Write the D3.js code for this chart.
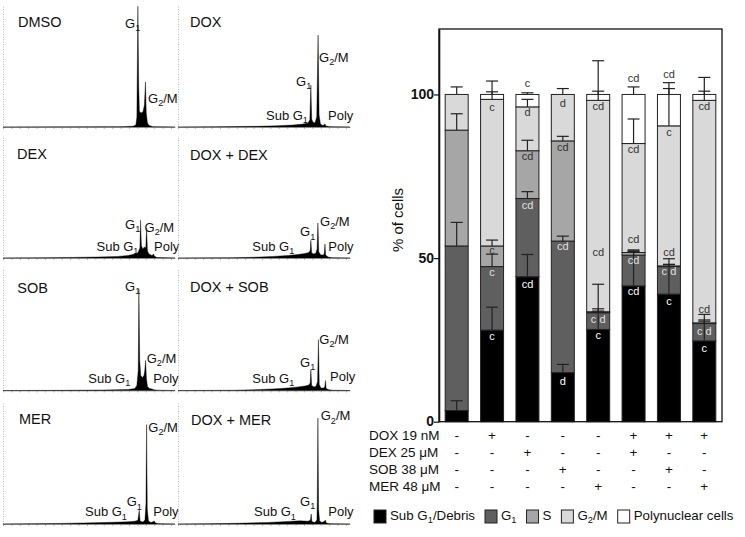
<!DOCTYPE html>
<html>
<head>
<meta charset="utf-8">
<script src="https://cdn.jsdelivr.net/npm/d3@7"></script>
<style>
  body { margin: 0; background: #fff; }
  text { font-family: "Liberation Sans", Arial, sans-serif; }
</style>
</head>
<body>
<svg id="chart" width="745" height="537"></svg>
<script>
// ---------- histograms: [DNA channel 0-1024, count as % of panel height]
var histDMSO = [[0,0],[714,0.3],[774,0.7],[791,1.6],[797,8.2],[803,99],[808,33],[812,13],[821,11.5],[833,12.3],[842,18],[848,37],[853,11.5],[860,3.3],[869,1.2],[881,0.8],[893,0.25],[1024,0]];
var histDOX = [[0,0],[238,0.2],[357,0.4],[476,0.6],[595,1],[684,1.6],[744,2.4],[774,3.2],[785,6],[791,34.4],[796,6.6],[803,4.1],[815,3.3],[826,8.2],[834,75.4],[840,9.8],[848,2.5],[863,1.2],[875,2.5],[881,0.8],[904,0.25],[1024,0]];
var histDEX = [[0,0],[268,0.2],[417,0.5],[565,0.8],[684,1.3],[744,2.1],[785,3.2],[803,4.4],[815,8.2],[819,31],[824,9.8],[833,7.4],[842,9],[850,8.2],[855,24.6],[860,5.7],[869,3.3],[887,2],[896,3.3],[901,1.6],[916,0.4],[1024,0]];
var histDOXDEX = [[0,0],[327,0.2],[446,0.6],[565,1.3],[655,2.1],[714,2.9],[756,3.7],[779,4.5],[787,6.2],[791,14.5],[796,4.1],[809,3.3],[821,4.1],[828,7.4],[833,28.7],[838,4.9],[851,2.5],[866,2.5],[871,4.1],[875,11.5],[879,2.5],[893,0.8],[916,0.25],[1024,0]];
var histSOB = [[0,0],[357,0.15],[595,0.4],[744,0.8],[785,1.6],[797,4.1],[805,16.4],[809,83.4],[814,24.6],[820,12.3],[830,10.7],[839,12.3],[844,16.4],[849,24.6],[854,9.8],[860,3.3],[872,1.6],[887,1.2],[898,0.66],[922,0.25],[1024,0]];
var histDOXSOB = [[0,0],[327,0.2],[446,0.6],[565,1.3],[655,2.1],[714,2.9],[756,3.7],[779,4.5],[787,6.2],[791,17],[796,4.1],[809,2.9],[821,3.3],[831,7.4],[836,41.6],[841,4.9],[851,2],[869,2],[874,3.3],[878,8.2],[882,1.6],[898,0.66],[922,0.25],[1024,0]];
var histMER = [[0,0],[179,0.2],[357,0.5],[536,1],[655,1.4],[744,1.8],[785,2.3],[803,3.1],[811,11.2],[816,2.5],[833,1.6],[845,3.3],[851,16.4],[855,81.5],[859,12.3],[866,2.5],[881,1.2],[896,2],[901,2.5],[907,0.8],[928,0.25],[1024,0]];
var histDOXMER = [[0,0],[179,0.2],[357,0.6],[536,1.3],[655,2.1],[726,2.6],[774,2.3],[788,3.1],[793,8.2],[797,2],[815,1.2],[827,3.3],[829,16.4],[833,86.9],[837,12.3],[843,2.5],[857,1.2],[875,2.5],[878,3.3],[882,0.8],[904,0.25],[1024,0]];

// ---------- stacked bars: % of cells per phase
var groups = ["DMSO", "DOX", "DEX", "SOB", "MER", "DOX+DEX", "DOX+SOB", "DOX+MER"];
var phases = ["subG1", "g1", "s", "g2m", "poly"];
var subG1 = [3.4, 28.0, 44.3, 15.0, 28.2, 41.5, 39.0, 24.7];
var g1    = [50.3, 19.4, 23.9, 40.2, 5.1, 9.4, 8.4, 5.3];
var sPh   = [35.4, 6.3, 14.6, 30.6, 0.3, 0.8, 0.2, 0.2];
var g2m   = [10.9, 44.8, 13.4, 14.2, 64.6, 33.3, 42.8, 68.0];
var poly  = [0, 1.5, 3.8, 0, 1.8, 15.0, 9.6, 1.8];

var subG1Err = [3.0, 7.0, 6.8, 2.5, 6.3, 10.5, 10.8, 8.1];
var g1Err    = [7.2, 3.8, 2.1, 1.5, 0.5, 1.3, 0.6, 1.1];
var sErr     = [5.0, 1.8, 3.2, 1.4, 8.4, 0.8, 0.5, 0.5];
var g2mErr   = [2.3, 2.3, 2.3, 1.8, 2.8, 7.5, 11.4, 2.8];
var polyErr  = [0, 4.1, 0.5, 0, 10.3, 2.3, 3.6, 5.2];

// significance letters: bar index, height (% of cells), letters
var sigBar  = [1, 1, 1, 1, 2, 2, 2, 2, 2, 3, 3, 3, 3, 4, 4, 4, 4, 5, 5, 5, 5, 5, 6, 6, 6, 6, 6, 7, 7, 7, 7];
var sigPos  = [96.0, 52.4, 45.6, 26.0, 103.6, 94.5, 81.0, 66.2, 42.0, 97.2, 84.0, 53.5, 12.4, 96.5, 51.9, 31.4, 26.5, 105.1, 83.2, 55.7, 49.4, 40.0, 106.1, 88.6, 51.9, 46.1, 36.7, 96.5, 34.3, 27.8, 22.6];
var sigText = ["c", "c", "c", "c", "c", "d", "cd", "cd", "cd", "d", "cd", "cd", "d", "cd", "cd", "c d", "c", "cd", "cd", "cd", "cd", "cd", "cd", "c", "cd", "c d", "c", "cd", "cd", "c d", "c"];

var treatments = ["DOX 19 nM", "DEX 25 \u03bcM", "SOB 38 \u03bcM", "MER 48 \u03bcM"];
var doxOn = [0, 1, 0, 0, 0, 1, 1, 1];
var dexOn = [0, 0, 1, 0, 0, 1, 0, 0];
var sobOn = [0, 0, 0, 1, 0, 0, 1, 0];
var merOn = [0, 0, 0, 0, 1, 0, 0, 1];
var yTicks = [0, 50, 100];

var svg = d3.select("#chart");

function phaseText(sel, main, sub, tail, fs) {
  sel.append("tspan").text(main);
  if (sub) sel.append("tspan").attr("font-size", fs * 0.7).attr("dy", fs * 0.25).text(sub);
  if (tail) sel.append("tspan").attr("dy", -fs * 0.25).text(tail);
}

// ---------- histogram panels
var colX = [3, 178], rowBase = [127, 258, 390.5, 524];
var panelW = 172, panelH = 122;

var panels = [
  {title: "DMSO", hist: histDMSO, col: 0, row: 0, tx: 15, ty: 100,
   labels: [["G", "1", "", 122, 99], ["G", "2", "/M", 145, 24.5]]},
  {title: "DOX", hist: histDOX, col: 1, row: 0, tx: 12, ty: 100,
   labels: [["G", "2", "/M", 141, 65.5], ["G", "1", "", 118, 41], ["Sub G", "1", "", 88, 7], ["Poly", "", "", 150, 7]]},
  {title: "DEX", hist: histDEX, col: 0, row: 1, tx: 14, ty: 99.5,
   labels: [["G", "1", "", 122, 29], ["G", "2", "/M", 141.5, 26.3], ["Sub G", "1", "", 93.5, 7.3], ["Poly", "", "", 151, 7.3]]},
  {title: "DOX + DEX", hist: histDOXDEX, col: 1, row: 1, tx: 12, ty: 98.5,
   labels: [["G", "2", "/M", 142, 32], ["G", "1", "", 122, 21.7], ["Sub G", "1", "", 74.3, 7], ["Poly", "", "", 150.3, 7]]},
  {title: "SOB", hist: histSOB, col: 0, row: 2, tx: 14.3, ty: 98,
   labels: [["G", "1", "", 122, 100], ["G", "2", "/M", 143.7, 27.5], ["Sub G", "1", "", 85.3, 7.5], ["Poly", "", "", 150.3, 7.5]]},
  {title: "DOX + SOB", hist: histDOXSOB, col: 1, row: 2, tx: 12, ty: 99,
   labels: [["G", "2", "/M", 141.3, 46.7], ["G", "1", "", 122, 24], ["Sub G", "1", "", 74.3, 7.4], ["Poly", "", "", 152, 10]]},
  {title: "MER", hist: histMER, col: 0, row: 3, tx: 16, ty: 99.7,
   labels: [["G", "2", "/M", 145.3, 92], ["G", "1", "", 123.7, 17.7], ["Sub G", "1", "", 82, 7.7], ["Poly", "", "", 150.3, 7.7]]},
  {title: "DOX + MER", hist: histDOXMER, col: 1, row: 3, tx: 13, ty: 99.3,
   labels: [["G", "2", "/M", 142.7, 103.6], ["G", "1", "", 122, 18.3], ["Sub G", "1", "", 76, 7.6], ["Poly", "", "", 150.3, 7.6]]}
];

panels.forEach(function(p) {
  var x0 = colX[p.col], b = rowBase[p.row];
  var x = d3.scaleLinear().domain([0, 1024]).range([x0, x0 + panelW]);
  var y = d3.scaleLinear().domain([0, 100]).range([b, b - panelH]);
  var g = svg.append("g");

  var ya = g.append("g").attr("transform", "translate(" + x0 + ",0)")
      .call(d3.axisLeft(y).tickValues([]).tickSizeOuter(0));
  ya.select(".domain").attr("stroke", "#bbb").attr("stroke-dasharray", "1,1.5");

  var xa = g.append("g").attr("transform", "translate(0," + b + ")")
      .call(d3.axisBottom(x).ticks(20).tickSize(2).tickSizeOuter(0).tickFormat(""));
  xa.select(".domain").attr("stroke", "#999").attr("stroke-width", 0.8);
  xa.selectAll(".tick line").attr("stroke", "#888").attr("stroke-width", 0.6);

  g.append("path").datum(p.hist)
      .attr("fill", "#000")
      .attr("stroke", "#000").attr("stroke-width", 0.4)
      .attr("d", d3.area().x(function(d) { return x(d[0]); }).y0(b).y1(function(d) { return y(d[1]); }));

  g.append("text").attr("x", x0 + p.tx).attr("y", b - p.ty)
      .attr("font-size", 14.5).attr("fill", "#111").text(p.title);

  p.labels.forEach(function(l) {
    var t = g.append("text").attr("x", x0 + l[3]).attr("y", b - l[4])
        .attr("font-size", 13).attr("fill", "#111");
    phaseText(t, l[0], l[1], l[2], 13);
  });
});

// ---------- stacked bar chart
var table = groups.map(function(gname, i) {
  return {group: gname, subG1: subG1[i], g1: g1[i], s: sPh[i], g2m: g2m[i], poly: poly[i]};
});
var errs = {subG1: subG1Err, g1: g1Err, s: sErr, g2m: g2mErr, poly: polyErr};
var colors = {subG1: "#000000", g1: "#5f5f5f", s: "#a6a6a6", g2m: "#d9d9d9", poly: "#ffffff"};
var textCol = {subG1: "#ffffff", g1: "#e0e0e0", s: "#333333", g2m: "#333333", poly: "#333333"};

var plotL = 439, plotR = 722, plotT = 29, plotB = 421.7;
var bx = d3.scaleBand().domain(groups).range([plotL, plotR]).paddingInner(0.35).paddingOuter(0.175);
var by = d3.scaleLinear().domain([0, 120]).range([plotB, plotT]);

var stack = d3.stack().keys(phases)(table);

var bars = svg.append("g");
stack.forEach(function(layer) {
  bars.selectAll(null).data(layer).enter().append("rect")
      .attr("x", function(d) { return bx(d.data.group); })
      .attr("width", bx.bandwidth())
      .attr("y", function(d) { return by(d[1]); })
      .attr("height", function(d) { return by(d[0]) - by(d[1]); })
      .attr("fill", colors[layer.key])
      .attr("stroke", "#222").attr("stroke-width", 1);
});

// error bars
var eb = svg.append("g").attr("stroke", "#222").attr("stroke-width", 1.2);
stack.forEach(function(layer) {
  var e = errs[layer.key];
  layer.forEach(function(d, i) {
    if (!e[i]) return;
    var cx = bx(d.data.group) + bx.bandwidth() / 2;
    var y1 = by(d[1]), y2 = by(d[1] + e[i]);
    eb.append("line").attr("x1", cx).attr("x2", cx).attr("y1", y1).attr("y2", y2);
    eb.append("line").attr("x1", cx - 6).attr("x2", cx + 6).attr("y1", y2).attr("y2", y2);
  });
});

// significance letters
sigBar.forEach(function(bi, k) {
  var pos = sigPos[k], col = "#333333";
  stack.forEach(function(layer) {
    var d = layer[bi];
    if (pos >= d[0] && pos < d[1]) col = textCol[layer.key];
  });
  svg.append("text")
      .attr("x", bx(groups[bi]) + bx.bandwidth() / 2)
      .attr("y", by(pos)).attr("dy", "0.35em")
      .attr("text-anchor", "middle").attr("font-size", 11)
      .attr("fill", col).text(sigText[k]);
});

// frame
svg.append("rect").attr("x", plotL).attr("y", plotT)
    .attr("width", plotR - plotL).attr("height", plotB - plotT)
    .attr("fill", "none").attr("stroke", "#111").attr("stroke-width", 1.3);

var ax = svg.append("g").attr("transform", "translate(" + plotL + ",0)")
    .call(d3.axisLeft(by).tickValues(yTicks).tickSize(5).tickSizeOuter(0));
ax.select(".domain").attr("stroke", "#111").attr("stroke-width", 1.6);
ax.selectAll(".tick line").attr("stroke", "#111").attr("stroke-width", 1.2);
ax.selectAll(".tick text").attr("font-family", "Liberation Sans, Arial, sans-serif")
    .attr("font-size", 14).attr("font-weight", "bold").attr("fill", "#111").attr("x", -5)
    .attr("dy", "0.3em");

svg.append("text").attr("transform", "translate(403,220) rotate(-90)")
    .attr("text-anchor", "middle").attr("font-size", 15).attr("fill", "#111").text("% of cells");

// treatment table
var onOff = [doxOn, dexOn, sobOn, merOn];
var rowY = [440, 457, 474, 491];
treatments.forEach(function(t, r) {
  svg.append("text").attr("x", 369).attr("y", rowY[r]).attr("font-size", 13.5)
      .attr("fill", "#111").text(t);
  svg.selectAll(null).data(onOff[r]).enter().append("text")
      .attr("x", function(d, i) { return bx(groups[i]) + bx.bandwidth() / 2; })
      .attr("y", rowY[r]).attr("text-anchor", "middle").attr("font-size", 13.5)
      .attr("fill", "#111").text(function(d) { return d ? "+" : "-"; });
});

// legend
var legendItems = [["Sub G", "1", "/Debris"], ["G", "1", ""], ["S", "", ""], ["G", "2", "/M"], ["Polynuclear cells", "", ""]];
var lx = 374, ly = 520;
legendItems.forEach(function(it, i) {
  svg.append("rect").attr("x", lx).attr("y", ly - 10).attr("width", 12).attr("height", 13)
      .attr("fill", colors[phases[i]]).attr("stroke", "#222").attr("stroke-width", 1);
  var t = svg.append("text").attr("x", lx + 16).attr("y", ly).attr("font-size", 13.3).attr("fill", "#111");
  phaseText(t, it[0], it[1], it[2], 13.3);
  lx += 16 + t.node().getComputedTextLength() + 10;
});
</script>
</body>
</html>
